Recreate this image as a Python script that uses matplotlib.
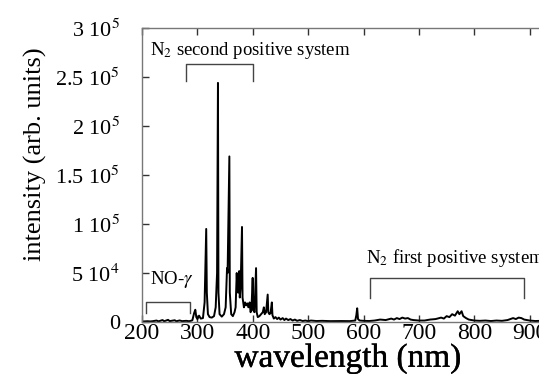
import matplotlib
matplotlib.use("Agg")
import matplotlib.pyplot as plt
import matplotlib.patheffects as pe
from matplotlib.ticker import MultipleLocator

plt.rcParams['font.family'] = ['Liberation Serif', 'DejaVu Serif']
plt.rcParams['mathtext.fontset'] = 'stix'

# emission spectrum, vertices (nm, counts)
wavelength = [
    200, 205, 210, 215, 220, 226, 230, 237, 240, 247, 250, 259, 262, 268, 272,
    280, 285, 290, 291, 294, 296.2, 298, 300, 303, 306, 310, 313, 315.9, 317,
    319, 322, 326, 330, 333, 335.5, 337.1, 338, 340, 344, 348, 351, 353.5,
    354.5, 357.7, 358.5, 361, 364, 367, 369, 371, 372, 373.5, 375.5, 376.5,
    378, 380.5, 381.5, 384, 386, 388, 390, 392, 394.3, 396, 397.5, 399.8, 401,
    403, 405.9, 407, 409, 412, 415, 418, 420, 421.5, 424, 426.9, 428, 430, 432,
    434.4, 435.5, 438, 441, 444, 447, 450, 454, 457, 460, 464, 468, 472, 476,
    480, 485, 490, 495, 500, 505, 515, 525, 540, 560, 575, 585, 587, 588.5,
    590, 593, 600, 610, 620, 630, 640, 650, 655, 660, 665, 670, 675, 680, 685,
    690, 700, 710, 720, 730, 740, 745, 750, 755, 760, 765, 770, 773, 777, 780,
    785, 790, 800, 810, 820, 830, 840, 850, 860, 865, 870, 875, 880, 885, 890,
    900, 910, 920, 930, 950, 1000,
]
intensity = [
    500, 600, 800, 600, 900, 1500, 700, 2000, 800, 2200, 900, 1800, 800, 1600,
    900, 1200, 800, 1500, 2000, 9000, 12500, 5000, 3000, 6500, 3500, 4000,
    20000, 95000, 30000, 8000, 5000, 4500, 6000, 15000, 50000, 244000, 30000,
    8000, 5500, 8000, 15000, 55000, 50000, 169000, 30000, 8000, 6000, 10000,
    15000, 50000, 35000, 30000, 52000, 25000, 35000, 97000, 25000, 15000, 20000,
    17000, 19000, 15000, 20000, 10000, 12000, 45000, 12000, 10000, 55000, 10000,
    5000, 6000, 8000, 10000, 15000, 8000, 10000, 28000, 10000, 8000, 9000,
    20000, 7000, 3500, 5000, 3000, 4500, 2500, 4000, 2000, 3500, 2000, 3000,
    1500, 2500, 1200, 2000, 1000, 1500, 800, 1500, 1000, 1200, 900, 1000, 900,
    1500, 7000, 14000, 3000, 1500, 1200, 1000, 1500, 2500, 2000, 3500, 2500,
    4000, 3000, 4500, 3500, 4000, 2500, 2000, 1500, 1500, 2500, 3000, 4500,
    3500, 6000, 5000, 8000, 6500, 11000, 8000, 11000, 6000, 4000, 2500, 1500,
    1200, 1500, 1000, 1500, 1200, 2000, 3000, 4000, 3000, 4500, 4000, 2500,
    1500, 1000, 1200, 800, 800, 800,
]

ytick_values = [0, 50000, 100000, 150000, 200000, 250000, 300000]
ytick_labels = ["0", "5 10$^4$", "1 10$^5$", "1.5 10$^5$", "2 10$^5$",
                "2.5 10$^5$", "3 10$^5$"]

# band brackets: (start nm, end nm, top, leg bottom)
brackets = [
    (207, 287, 20000, 9000),
    (280, 400, 263000, 246000),
    (612, 890, 45000, 24500),
]
band_names = ["NO-$\\gamma$", "N$_2$ second positive system",
              "N$_2$ first positive system"]
name_pos = [(214, 39000), (214, 272000), (604, 60000)]

fig = plt.figure(figsize=(5.39, 3.74), dpi=100)
ax = fig.add_axes([0.2635, 0.139, 0.822, 0.786])

ax.plot(wavelength, intensity, color='black', lw=1.4)

for (x0, x1, top, bot) in brackets:
    ax.plot([x0, x0, x1, x1], [bot, top, top, bot], color='#444444', lw=1.0)
for name, (x, y) in zip(band_names, name_pos):
    ax.text(x, y, name, fontsize=13.5, ha='left', va='baseline')

ax.set_xlim(200, 1000)
ax.set_ylim(0, 300000)
ax.xaxis.set_major_locator(MultipleLocator(100))
ax.tick_params(direction='in', top=True, right=True, length=5, width=1,
               color='#333333')
ax.tick_params(axis='x', labelsize=17, pad=1)
ax.tick_params(axis='y', pad=16)
ax.set_yticks(ytick_values)
ax.set_yticklabels(ytick_labels, fontsize=16)
for s in ax.spines.values():
    s.set_color('#777777')
    s.set_linewidth(1.0)

ax.set_xlabel("wavelength (nm)", fontsize=24,
              path_effects=[pe.withStroke(linewidth=0.3, foreground='black')])
ax.set_ylabel("intensity (arb. units)", fontsize=19)
ax.xaxis.set_label_coords(0.465, -0.072)
ax.yaxis.set_label_coords(-0.215, 0.57)

fig.savefig("out.png", dpi=100)
